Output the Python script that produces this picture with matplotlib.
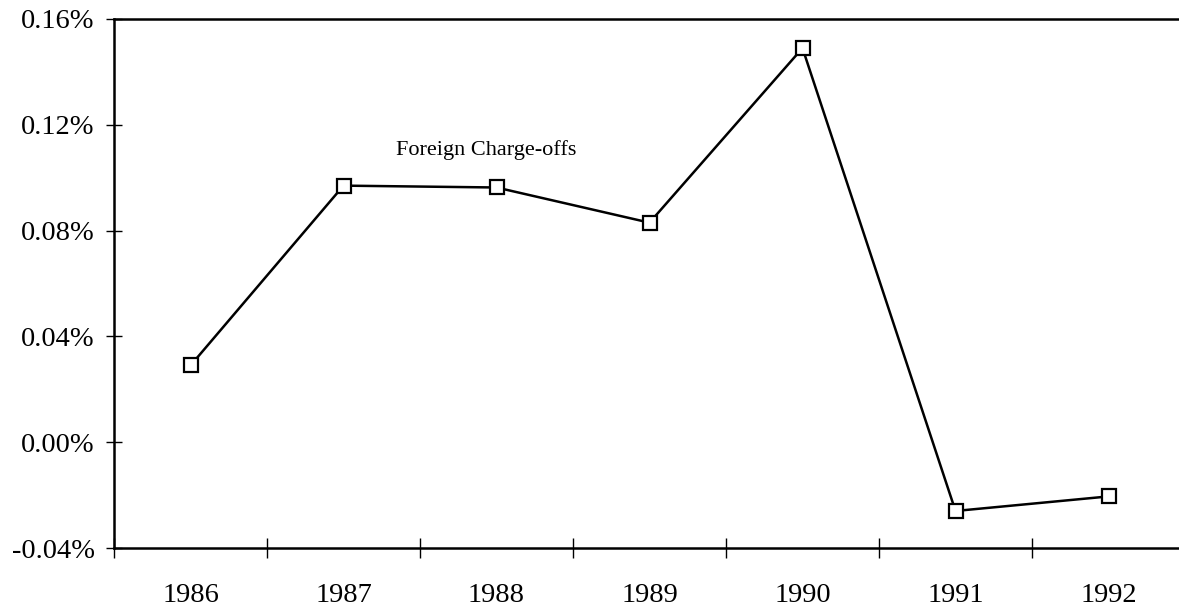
import matplotlib
matplotlib.use("Agg")
import matplotlib.pyplot as plt
from matplotlib.ticker import FixedLocator, FuncFormatter, NullFormatter

years = ["1986", "1987", "1988", "1989", "1990", "1991", "1992"]
foreign_chargeoffs = [0.029, 0.097, 0.0963, 0.083, 0.149, -0.026, -0.0205]
y_ticks = [-0.04, 0.00, 0.04, 0.08, 0.12, 0.16]
series_label = "Foreign Charge-offs"

plt.rcParams['font.family'] = ['Liberation Serif', 'DejaVu Serif']

W, H = 1179, 607
fig = plt.figure(figsize=(W / 100, H / 100), dpi=100)
left, right = 114, 1179
top, bottom = 19, 548
ax = fig.add_axes([left / W, (H - bottom) / H, (right - left) / W, (bottom - top) / H])

x = list(range(1, len(years) + 1))
ax.plot(x, foreign_chargeoffs, color='black', linewidth=1.8, marker='s',
        markersize=10, markerfacecolor='white', markeredgecolor='black',
        markeredgewidth=1.6, zorder=3)

ax.set_xlim(0.5, 0.5 + (right - left) / 153.0)
ax.set_ylim(-0.04, 0.16)

ax.yaxis.set_major_locator(FixedLocator(y_ticks))
ax.yaxis.set_major_formatter(FuncFormatter(lambda v, p: f"{v:.2f}%"))

ax.xaxis.set_major_locator(FixedLocator([i + 0.5 for i in range(0, len(years))]))
ax.xaxis.set_major_formatter(NullFormatter())
ax.xaxis.set_minor_locator(FixedLocator(x))
ax.set_xticklabels(years, minor=True)

ax.tick_params(axis='y', which='major', direction='inout', length=12, width=1.0,
               labelsize=20.5, pad=8)
ax.tick_params(axis='x', which='major', direction='inout', length=14, width=1.0)
ax.tick_params(axis='x', which='minor', length=0, labelsize=20.5, pad=25)

for s in ['left', 'bottom', 'top']:
    ax.spines[s].set_linewidth(1.8)
ax.spines['right'].set_visible(False)

ax.text(2.93, 0.1105, series_label, fontsize=16, ha='center', va='center')

fig.savefig("out.png", dpi=100)
